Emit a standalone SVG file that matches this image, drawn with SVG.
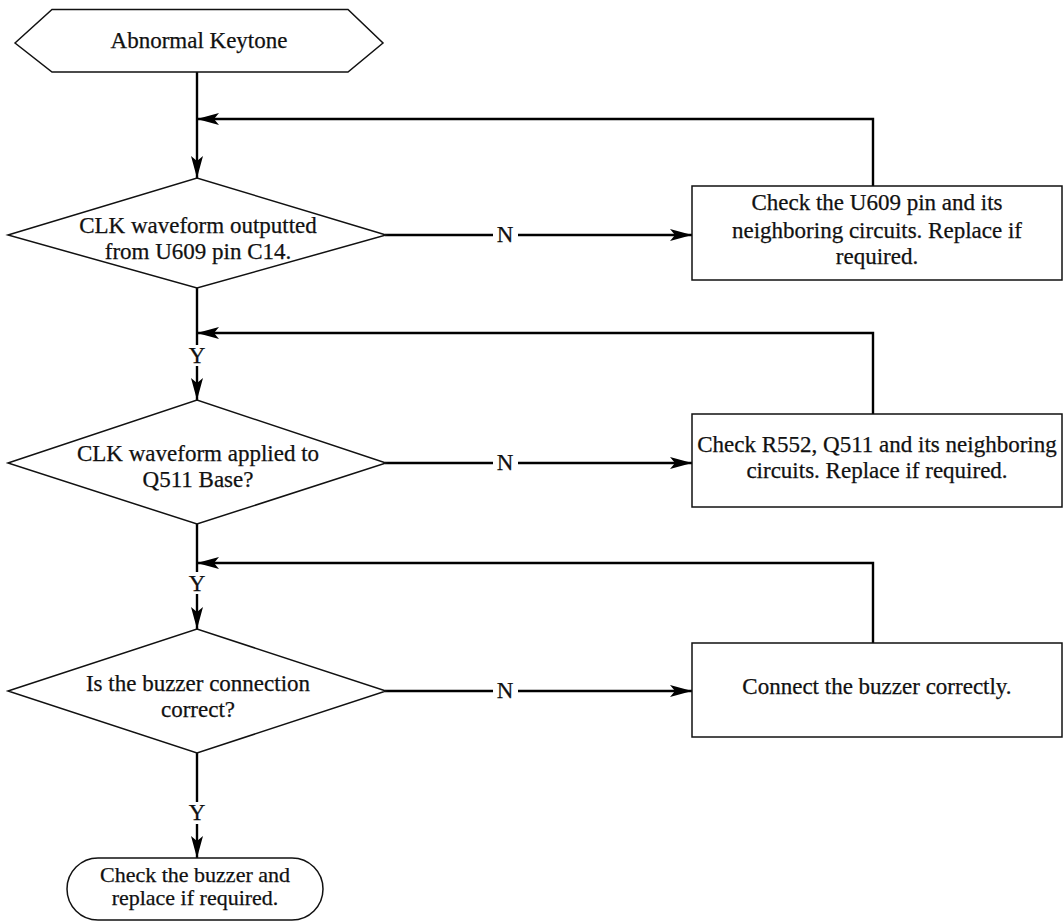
<svg xmlns="http://www.w3.org/2000/svg" width="1063" height="922" viewBox="0 0 1063 922">
  <defs>
    <marker id="arrow" markerUnits="userSpaceOnUse" markerWidth="24" markerHeight="14" viewBox="-1 -7 24 14" refX="22" refY="0" orient="auto">
      <path d="M0,-6 L22,0 L0,6 L5,0 Z" fill="#000"/>
    </marker>
  </defs>
  <style>
    .shape { fill: #fff; stroke: #111; stroke-width: 1.5; }
    .wire { fill: none; stroke: #000; stroke-width: 2.4; }
    .lbl { font-family: "Liberation Serif", "DejaVu Serif", serif; font-size: 23px; fill: #111; text-anchor: middle; stroke: #111; stroke-width: 0.25; }
  </style>
  <rect width="1063" height="922" fill="#fff"/>

  <!-- connectors -->
  <g id="connectors">
    <!-- main trunk -->
    <line class="wire" x1="197" y1="72" x2="197" y2="178" marker-end="url(#arrow)"/>
    <line class="wire" x1="197" y1="288" x2="197" y2="345"/>
    <line class="wire" x1="197" y1="366" x2="197" y2="400" marker-end="url(#arrow)"/>
    <line class="wire" x1="197" y1="524" x2="197" y2="572"/>
    <line class="wire" x1="197" y1="594" x2="197" y2="629" marker-end="url(#arrow)"/>
    <line class="wire" x1="197" y1="753" x2="197" y2="802"/>
    <line class="wire" x1="197" y1="824" x2="197" y2="858" marker-end="url(#arrow)"/>
    <!-- N branches -->
    <line class="wire" x1="385" y1="235" x2="493" y2="235"/>
    <line class="wire" x1="518" y1="235" x2="692" y2="235" marker-end="url(#arrow)"/>
    <line class="wire" x1="385" y1="463" x2="493" y2="463"/>
    <line class="wire" x1="518" y1="463" x2="692" y2="463" marker-end="url(#arrow)"/>
    <line class="wire" x1="385" y1="691" x2="493" y2="691"/>
    <line class="wire" x1="518" y1="691" x2="692" y2="691" marker-end="url(#arrow)"/>
    <!-- return loops -->
    <polyline class="wire" points="873,186 873,119 197,119" marker-end="url(#arrow)"/>
    <polyline class="wire" points="873,414 873,333 197,333" marker-end="url(#arrow)"/>
    <polyline class="wire" points="873,643 873,563 197,563" marker-end="url(#arrow)"/>
    <!-- branch labels -->
    <text class="lbl" x="505" y="242">N</text>
    <text class="lbl" x="505" y="470">N</text>
    <text class="lbl" x="505" y="698">N</text>
    <text class="lbl" x="197" y="363">Y</text>
    <text class="lbl" x="197" y="591">Y</text>
    <text class="lbl" x="197" y="820">Y</text>
  </g>

  <g id="start">
    <polygon class="shape" points="15,43 52,9.5 348,9.5 383,43 348,72 52,72"/>
    <text class="lbl" x="199" y="48">Abnormal Keytone</text>
  </g>

  <g id="check-clk-output">
    <polygon class="shape" points="8,235 197,178 386,235 197,288"/>
    <text class="lbl" x="198" y="233">CLK waveform outputted</text>
    <text class="lbl" x="198" y="259">from U609 pin C14.</text>
  </g>

  <g id="fix-u609">
    <rect class="shape" x="692" y="186" width="370" height="94"/>
    <text class="lbl" x="877" y="210">Check the U609 pin and its</text>
    <text class="lbl" x="877" y="238">neighboring circuits. Replace if</text>
    <text class="lbl" x="877" y="264">required.</text>
  </g>

  <g id="check-q511-base">
    <polygon class="shape" points="8,463 197,400 386,463 197,524"/>
    <text class="lbl" x="198" y="461">CLK waveform applied to</text>
    <text class="lbl" x="198" y="487">Q511 Base?</text>
  </g>

  <g id="fix-q511">
    <rect class="shape" x="692" y="414" width="370" height="93"/>
    <text class="lbl" x="877" y="452">Check R552, Q511 and its neighboring</text>
    <text class="lbl" x="877" y="478">circuits. Replace if required.</text>
  </g>

  <g id="check-buzzer-connection">
    <polygon class="shape" points="8,691 197,629 386,691 197,753"/>
    <text class="lbl" x="198" y="691">Is the buzzer connection</text>
    <text class="lbl" x="198" y="717">correct?</text>
  </g>

  <g id="fix-connection">
    <rect class="shape" x="692" y="643" width="370" height="94"/>
    <text class="lbl" x="877" y="694">Connect the buzzer correctly.</text>
  </g>

  <g id="end">
    <rect class="shape" x="67" y="858" width="256" height="62" rx="31" ry="31"/>
    <text class="lbl" x="195" y="882" style="font-size:22px">Check the buzzer and</text>
    <text class="lbl" x="195" y="905" style="font-size:22px">replace if required.</text>
  </g>
</svg>
